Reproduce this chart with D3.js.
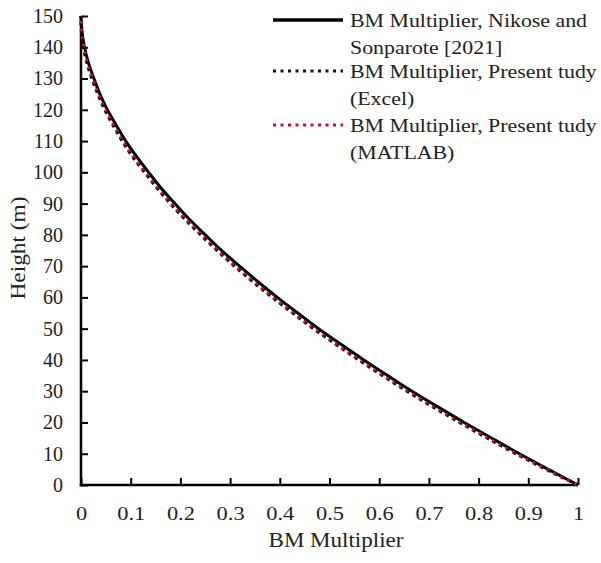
<!DOCTYPE html>
<html>
<head>
<meta charset="utf-8">
<script src="https://cdn.jsdelivr.net/npm/d3@7"></script>
<style>
  html, body { margin: 0; padding: 0; background: #fff; }
  svg { display: block; }
  text { font-family: "Liberation Serif", "Times New Roman", serif; fill: #222; }
</style>
</head>
<body>
<svg id="chart" width="601" height="563"></svg>
<script>
// Heights (m)
const heights = [0, 5, 10, 15, 20, 25, 30, 35, 40, 45, 50, 55, 60, 65, 70, 75, 80, 85, 90, 95, 100, 105, 110, 115, 120, 125, 130, 135, 140, 145, 150];
// BM Multiplier, Nikose and Sonparote [2021]
const nikose = [1.000, 0.940, 0.882, 0.826, 0.771, 0.718, 0.666, 0.617, 0.569, 0.523, 0.478, 0.436, 0.395, 0.356, 0.319, 0.283, 0.250, 0.218, 0.189, 0.161, 0.136, 0.112, 0.090, 0.071, 0.053, 0.038, 0.026, 0.015, 0.007, 0.002, 0.000];
// BM Multiplier, Present study (Excel)
const excel = [1.000, 0.936, 0.875, 0.818, 0.762, 0.708, 0.656, 0.607, 0.559, 0.513, 0.468, 0.426, 0.385, 0.346, 0.309, 0.274, 0.241, 0.209, 0.180, 0.153, 0.128, 0.104, 0.083, 0.065, 0.048, 0.034, 0.022, 0.012, 0.005, 0.001, 0.000];
// BM Multiplier, Present study (MATLAB)
const matlab = [1.000, 0.937, 0.876, 0.819, 0.763, 0.709, 0.657, 0.608, 0.560, 0.514, 0.469, 0.427, 0.386, 0.347, 0.310, 0.275, 0.242, 0.210, 0.181, 0.154, 0.129, 0.105, 0.084, 0.066, 0.049, 0.035, 0.023, 0.013, 0.006, 0.001, 0.000];

const xTicks = [0, 0.1, 0.2, 0.3, 0.4, 0.5, 0.6, 0.7, 0.8, 0.9, 1];
const yTicks = [0, 10, 20, 30, 40, 50, 60, 70, 80, 90, 100, 110, 120, 130, 140, 150];
const seriesNames = ["BM Multiplier, Nikose and|Sonparote [2021]", "BM Multiplier, Present tudy|(Excel)", "BM Multiplier, Present tudy|(MATLAB)"];

const svg = d3.select("#chart");
const x = d3.scaleLinear().domain([0, 1]).range([81, 578]);
const y = d3.scaleLinear().domain([0, 150]).range([485, 16]);

// horizontal stretch helper (reference text is slightly widened)
function stretch(sel, k) {
  sel.each(function () {
    const w = this.getComputedTextLength();
    d3.select(this).attr("textLength", w * k).attr("lengthAdjust", "spacingAndGlyphs");
  });
}

// Axes
const fmtX = d => d === 0 ? "0" : d === 1 ? "1" : d3.format(".1f")(d);
const xAxis = d3.axisBottom(x).tickValues(xTicks).tickSize(-7).tickSizeOuter(0).tickPadding(21).tickFormat(fmtX);
const yAxis = d3.axisLeft(y).tickValues(yTicks).tickSize(-7).tickSizeOuter(0).tickPadding(18).tickFormat(d3.format("d"));

const gx = svg.append("g").attr("transform", "translate(0,485)").call(xAxis);
const gy = svg.append("g").attr("transform", "translate(81,0)").call(yAxis);
[gx, gy].forEach(g => {
  g.select(".domain").attr("stroke", "#000").attr("stroke-width", 2.5);
  g.selectAll(".tick line").attr("stroke", "#000").attr("stroke-width", 2);
  g.selectAll(".tick text").style("font-family", "Liberation Serif, serif").attr("fill", "#222");
});
gx.selectAll(".tick text").style("font-size", "19.5px");
gy.selectAll(".tick text").style("font-size", "20px");
stretch(gx.selectAll(".tick text"), 1.15);
gy.select(".domain").attr("d", "M0," + y(150) + "V" + (y(0) + 1.25));
gx.select(".domain").attr("d", "M" + (x(0) - 1.25) + ",0H" + x(1));

// Lines
const data = (vals) => heights.map((h, i) => [vals[i], h]);
const line = d3.line().x(d => x(d[0])).y(d => y(d[1])).curve(d3.curveMonotoneY);

svg.append("path").datum(data(nikose)).attr("d", line)
  .attr("fill", "none").attr("stroke", "#000").attr("stroke-width", 3);
svg.append("path").datum(data(excel)).attr("d", line)
  .attr("fill", "none").attr("stroke", "#111").attr("stroke-width", 3.3)
  .attr("stroke-dasharray", "3.5,4.2");
svg.append("path").datum(data(matlab)).attr("d", line)
  .attr("fill", "none").attr("stroke", "#c8102e").attr("stroke-width", 3)
  .attr("stroke-dasharray", "2.5,5.2").attr("stroke-dashoffset", -1.8);

// Axis titles
const xt = svg.append("text").attr("x", 336).attr("y", 547).attr("text-anchor", "middle")
  .style("font-size", "20px").text("BM Multiplier");
stretch(xt, 1.15);
svg.append("text").attr("transform", "translate(25,248) rotate(-90)").attr("text-anchor", "middle")
  .style("font-size", "20px").attr("textLength", 103).attr("lengthAdjust", "spacingAndGlyphs").text("Height (m)");

// Legend
const legendY = [20, 71, 125];
const styles = [
  { stroke: "#000", dash: null, w: 3.5 },
  { stroke: "#111", dash: "3,4.5", w: 3 },
  { stroke: "#c8102e", dash: "3,4.5", w: 3 }
];
const lg = svg.append("g");
seriesNames.forEach((name, i) => {
  const s = styles[i];
  const l = lg.append("line").attr("x1", 273).attr("x2", 343).attr("y1", legendY[i]).attr("y2", legendY[i])
    .attr("stroke", s.stroke).attr("stroke-width", s.w);
  if (s.dash) l.attr("stroke-dasharray", s.dash);
  const parts = name.split("|");
  parts.forEach((p, j) => {
    const t = lg.append("text").attr("x", 350).attr("y", legendY[i] + 6.5 + j * 27)
      .style("font-size", "19px").text(p);
    stretch(t, 1.15);
  });
});
</script>
</body>
</html>
